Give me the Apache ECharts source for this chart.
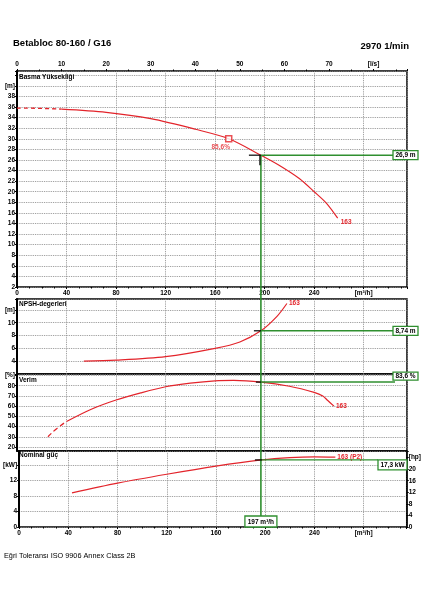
<!DOCTYPE html>
<html><head><meta charset="utf-8">
<script src="https://cdn.jsdelivr.net/npm/echarts@6/dist/echarts.min.js"></script>
<style>html,body{margin:0;padding:0;background:#fff}#c{width:424px;height:600px}</style>
</head><body><div id="c"></div>
<script>
// ---- data ----
const headDashQ = [0, 18, 36];
const headDashH = [35.8, 35.75, 35.6];
const headQ = [36, 72, 108, 144, 171, 197, 211, 228, 240, 250, 259];
const headH = [35.6, 35.0, 33.8, 31.8, 30.0, 26.9, 25.1, 22.5, 20.0, 17.8, 15.0];
const npshQ = [54, 80, 120, 160, 180, 197, 210, 218];
const npshV = [4.0, 4.15, 4.7, 6.0, 7.0, 8.74, 11.0, 13.0];
const effDashQ = [25, 32, 40];
const effDashV = [30, 38, 45];
const effQ = [40, 60, 80, 100, 120, 140, 160, 175, 197, 220, 240, 247, 251, 256];
const effV = [45, 57, 66, 73, 79, 82.5, 84.8, 85.2, 83.6, 79.5, 73.5, 70, 65.5, 60];
const powQ = [43, 80, 120, 160, 197, 220, 240, 257];
const powV = [8.8, 11.3, 13.6, 15.7, 17.3, 17.9, 18.1, 18.0];
const bepPoint = [171, 30.0];
const bepLabel = '85,6%';
const curveName = '163';
const powerName = '163 (P2)';
const duty = { q: 197, h: 26.9, npsh: 8.74, eff: 83.6, p: 17.3 };
const dutyLabels = { h: '26,9 m', npsh: '8,74 m', eff: '83,6 %', p: '17,3 kW', q: '197 m³/h' };
const effTicks = [20, 30, 40, 50, 60, 70, 80, 90];
const titleText = 'Betabloc 80-160 / G16';
const speedText = '2970 1/min';
const footerText = 'Eğri Toleransı ISO 9906 Annex Class 2B';
const panelTitles = ['Basma Yüksekliği', 'NPSH-degerleri', 'Verim', 'Nominal güç'];

// ---- layout / style ----
const QMAX = 315, HMAX = 42.8, NMAX = 13.7, EMIN = 16.1, EMAX = 91.5, PMAX = 19.6, KW2HP = 1.341;
const RED = '#e3242b', GREEN = '#2f8f2f', GRIDC = '#8a8a8a';
const FONT = '"Liberation Sans", Arial, sans-serif';
const zip = (a, b) => a.map((v, i) => [v, b[i]]);
const L = 17, R = 17;
const G = [
  { top: 71, height: 216 },
  { top: 299, height: 75 },
  { top: 374, height: 77 },
  { top: 451, height: 76 }
];
const lab = (extra) => Object.assign({ fontFamily: FONT, fontSize: 6.5, fontWeight: 'bold', color: '#000' }, extra);
const split = { show: true, lineStyle: { type: 'dotted', color: GRIDC, width: 0.9 } };

const xBase = (gi, extra) => Object.assign({
  type: 'value', gridIndex: gi, min: 0, max: QMAX, interval: 40,
  axisLine: { show: false }, axisTick: { show: false }, axisLabel: { show: false },
  splitLine: split
}, extra);
const qFmt = v => v === 280 ? '[m³/h]' : (v > 280 ? '' : String(v));
const endLab = (text) => ({ show: true, formatter: text, color: RED, fontFamily: FONT, fontSize: 6.5, fontWeight: 'bold', distance: 2 });

const option = {
  animation: false,
  backgroundColor: '#fff',
  grid: G.map(g => ({ left: L, right: R, top: g.top, height: g.height, show: true, borderColor: '#000', borderWidth: 1.5 })),
  xAxis: [
    xBase(0, { position: 'bottom', axisLabel: lab({ show: true, margin: 3, formatter: qFmt }),
      axisTick: { show: true, length: 2, lineStyle: { color: '#000' } },
      minorTick: { show: true, splitNumber: 4, length: 1.5, lineStyle: { color: '#000' } } }),
    { type: 'value', gridIndex: 0, position: 'top', min: 0, max: QMAX / 3.6, interval: 10,
      axisLine: { show: false }, splitLine: { show: false },
      axisTick: { show: true, length: 2, lineStyle: { color: '#000' } },
      minorTick: { show: true, splitNumber: 2, length: 1.5, lineStyle: { color: '#000' } },
      axisLabel: lab({ margin: 3, formatter: v => v === 80 ? '[l/s]' : (v > 80 ? '' : String(v)) }) },
    xBase(1),
    xBase(2),
    xBase(3, { position: 'bottom', axisLabel: lab({ show: true, margin: 3, formatter: qFmt }),
      axisTick: { show: true, length: 2, lineStyle: { color: '#000' } },
      minorTick: { show: true, splitNumber: 4, length: 1.5, lineStyle: { color: '#000' } } })
  ],
  yAxis: [
    { type: 'value', gridIndex: 0, min: 2, max: HMAX, interval: 2,
      axisLine: { show: true, lineStyle: { color: '#000', width: 2 } },
      axisTick: { show: true, length: 2, lineStyle: { color: '#000' } },
      axisLabel: lab({ margin: 2, formatter: v => v === 40 ? '[m]' : (v > 40 || v % 2 ? '' : String(v)) }),
      splitLine: split },
    { type: 'value', gridIndex: 1, min: 2, max: NMAX, interval: 2,
      axisLine: { show: true, lineStyle: { color: '#000', width: 2 } },
      axisTick: { show: true, length: 2, lineStyle: { color: '#000' } },
      axisLabel: lab({ margin: 2, formatter: v => v === 12 ? '[m]' : (v > 12 || v === 2 || v % 2 ? '' : String(v)) }),
      splitLine: split },
    { type: 'value', gridIndex: 2, min: EMIN, max: EMAX,
      axisLine: { show: true, lineStyle: { color: '#000', width: 2 } },
      axisTick: { show: true, length: 2, customValues: effTicks, lineStyle: { color: '#000' } },
      axisLabel: lab({ margin: 2, customValues: effTicks, formatter: v => v === 90 ? '[%]' : String(v) }),
      splitLine: split },
    { type: 'value', gridIndex: 3, min: 0, max: PMAX, interval: 4,
      axisLine: { show: true, lineStyle: { color: '#000', width: 2 } },
      axisTick: { show: true, length: 2, lineStyle: { color: '#000' } },
      axisLabel: lab({ margin: 2, formatter: v => v === 16 ? '[kW]' : (v > 16 || v % 4 ? '' : String(v)) }),
      splitLine: split },
    { type: 'value', gridIndex: 3, position: 'right', min: 0, max: PMAX * KW2HP, interval: 4,
      axisLine: { show: true, lineStyle: { color: '#000', width: 1.5 } },
      axisTick: { show: true, length: 2, lineStyle: { color: '#000' } },
      axisLabel: lab({ margin: 2, formatter: v => v === 24 ? '[hp]' : (v > 24 || v % 4 ? '' : String(v)) }),
      splitLine: { show: false } }
  ],
  series: [
    { type: 'line', xAxisIndex: 0, yAxisIndex: 0, data: zip(headDashQ, headDashH), symbol: 'none', smooth: true,
      lineStyle: { color: RED, width: 1.3, type: [4, 3] } },
    { type: 'line', xAxisIndex: 0, yAxisIndex: 0, data: zip(headQ, headH), symbol: 'none', smooth: 0.3,
      lineStyle: { color: RED, width: 1.2 },
      endLabel: Object.assign(endLab(curveName), { distance: 3, offset: [0, 4] }) },
    { type: 'scatter', xAxisIndex: 0, yAxisIndex: 0, data: [bepPoint], symbol: 'rect', symbolSize: 6, z: 5,
      itemStyle: { color: '#fff', borderColor: RED, borderWidth: 1.5 },
      label: { show: true, position: 'bottom', formatter: bepLabel, color: RED, fontFamily: FONT, fontSize: 6.5, fontWeight: 'bold', distance: 1, offset: [-8, 0] } },
    { type: 'line', xAxisIndex: 2, yAxisIndex: 1, data: zip(npshQ, npshV), symbol: 'none', smooth: 0.3,
      lineStyle: { color: RED, width: 1.2 }, endLabel: endLab(curveName) },
    { type: 'line', xAxisIndex: 3, yAxisIndex: 2, data: zip(effDashQ, effDashV), symbol: 'none', smooth: true,
      lineStyle: { color: RED, width: 1.3, type: [5, 3] } },
    { type: 'line', xAxisIndex: 3, yAxisIndex: 2, data: zip(effQ, effV), symbol: 'none', smooth: 0.3,
      lineStyle: { color: RED, width: 1.2 }, endLabel: endLab(curveName) },
    { type: 'line', xAxisIndex: 4, yAxisIndex: 3, data: zip(powQ, powV), symbol: 'none', smooth: 0.3,
      lineStyle: { color: RED, width: 1.2 }, endLabel: endLab(powerName) }
  ]
};

const chart = echarts.init(document.getElementById('c'));
chart.setOption(option);

// ---- annotations placed through the chart's own scales ----
const P = (xi, yi, x, y) => chart.convertToPixel({ xAxisIndex: xi, yAxisIndex: yi }, [x, y]);
const pH = P(0, 0, duty.q, duty.h);
const pN = P(2, 1, duty.q, duty.npsh);
const pE = P(3, 2, duty.q, duty.eff);
const pP = P(4, 3, duty.q, duty.p);
const rightX = 424 - R;
const bottomY = G[3].top + G[3].height;
const xd = pH[0];

const els = [];
const line = (x1, y1, x2, y2, color, w) => els.push({ type: 'line', z: 100,
  shape: { x1, y1, x2, y2 }, style: { stroke: color, lineWidth: w } });
const box = (x, y, w, h, text) => {
  els.push({ type: 'rect', z: 101, shape: { x, y, width: w, height: h },
    style: { fill: '#fff', stroke: GREEN, lineWidth: 1.3 } });
  els.push({ type: 'text', z: 102, x: x + w / 2, y: y + h / 2 + 0.5,
    style: { text, fill: '#000', font: 'bold 6.5px ' + FONT, textAlign: 'center', textVerticalAlign: 'middle' } });
};
const txt = (x, y, text, font, align) => els.push({ type: 'text', z: 102, x, y,
  style: { text, fill: '#000', font, textAlign: align || 'left', textVerticalAlign: 'middle' } });

// vertical duty line
line(xd, pH[1], xd, bottomY - 11, GREEN, 1.6);
// horizontals
line(xd, pH[1], rightX - 12, pH[1], GREEN, 1.4);
line(xd, pN[1], rightX - 12, pN[1], GREEN, 1.4);
line(xd, pE[1], rightX - 12, pE[1], GREEN, 1.4);
line(xd, pP[1], rightX - 29, pP[1], GREEN, 1.4);
// black tolerance marks
line(xd - 12, pH[1], xd, pH[1], '#000', 1.2);
line(xd - 1, pH[1], xd - 1, pH[1] + 10, '#000', 1.2);
line(xd - 7, pN[1], xd, pN[1], '#000', 1.2);
line(xd - 5, pE[1], xd, pE[1], '#000', 1.2);
line(xd - 6, pP[1], xd + 1, pP[1], '#000', 1.2);
// value boxes
box(rightX - 14, pH[1] - 4.5, 25, 9, dutyLabels.h);
box(rightX - 14, pN[1] - 4.5, 25, 9, dutyLabels.npsh);
box(rightX - 14, pE[1] - 10, 25, 8, dutyLabels.eff);
box(rightX - 29, pP[1], 29, 10, dutyLabels.p);
box(xd - 16, bottomY - 11, 32, 11, dutyLabels.q);
// texts
txt(13, 43, titleText, 'bold 9.5px ' + FONT);
txt(409, 46, speedText, 'bold 9.5px ' + FONT, 'right');
txt(4, 556, footerText, '7.3px ' + FONT);
const ptY = [77, 304, 380, 455];
panelTitles.forEach((t, i) => txt(19, ptY[i], t, 'bold 6.5px ' + FONT));

chart.setOption({ graphic: els });
</script>
</body></html>
